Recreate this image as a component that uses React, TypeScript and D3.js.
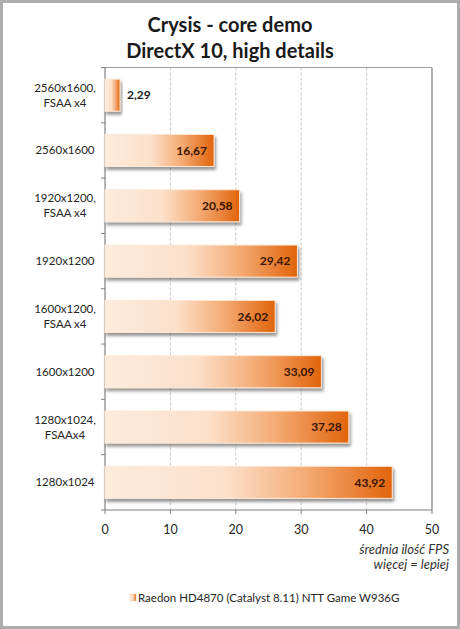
import React from "react";
import * as d3 from "d3";

const categories = [
  ["2560x1600,", "FSAA x4"],
  ["2560x1600"],
  ["1920x1200,", "FSAA x4"],
  ["1920x1200"],
  ["1600x1200,", "FSAA x4"],
  ["1600x1200"],
  ["1280x1024,", "FSAAx4"],
  ["1280x1024"],
];
const values = [2.29, 16.67, 20.58, 29.42, 26.02, 33.09, 37.28, 43.92];
const xTicks = [0, 10, 20, 30, 40, 50];
const titleLines = ["Crysis - core demo", "DirectX 10, high details"];
const axisNote = ["średnia ilość FPS", "więcej = lepiej"];
const legendLabel = "Raedon HD4870 (Catalyst 8.11) NTT Game W936G";

const W = 460;
const H = 629;
const FONT = "Lato, 'Open Sans', sans-serif";

export default function App() {
  const left = 105, right = 432, top = 67.5, bottom = 510;
  const x = d3.scaleLinear().domain([0, 50]).range([left, right]);
  const y = d3
    .scaleBand<number>()
    .domain(d3.range(categories.length))
    .range([top, bottom])
    .paddingInner(0.42)
    .paddingOuter(0.21);
  const bandStep = (bottom - top) / categories.length;
  const fmt = (v: number) => v.toFixed(2).replace(".", ",");

  return (
    <div style={{ position: "absolute", left: 0, top: 0 }}>
      <svg width={W} height={H} style={{ display: "block" }}>
        <defs>
          <linearGradient id="barGrad" x1="0" y1="0" x2="1" y2="0">
            <stop offset="0" stopColor="#fdebdc" />
            <stop offset="0.42" stopColor="#fce0ca" />
            <stop offset="0.7" stopColor="#f4ab74" />
            <stop offset="1" stopColor="#e1640b" />
          </linearGradient>
          <filter id="shadow" x="-10%" y="-30%" width="130%" height="180%">
            <feDropShadow dx="1.5" dy="3" stdDeviation="1.4" floodColor="#404040" floodOpacity="0.55" />
          </filter>
        </defs>
        <rect x={0} y={0} width={W} height={H} fill="#ffffff" />
        <rect x={1.5} y={1.5} width={W - 3} height={H - 3} fill="none" stroke="#adadad" strokeWidth={3} />

        {titleLines.map((t, i) => (
          <text
            key={i}
            x={230}
            y={32 + i * 26}
            textAnchor="middle"
            fontFamily={FONT}
            fontWeight="bold"
            fontSize={20}
            fill="#1a1a1a"
          >
            {t}
          </text>
        ))}

        {/* gridlines */}
        {xTicks.slice(1, -1).map((t) => (
          <line
            key={t}
            x1={x(t)}
            x2={x(t)}
            y1={top}
            y2={bottom}
            stroke="#c8c8c8"
            strokeDasharray="3,2"
            strokeWidth={1}
          />
        ))}

        {/* plot border */}
        <line x1={left} x2={right} y1={top} y2={top} stroke="#a0a0a0" strokeWidth={1} />
        <line x1={right} x2={right} y1={top} y2={bottom} stroke="#808080" strokeWidth={1.2} />
        <line x1={left} x2={left} y1={top} y2={bottom} stroke="#808080" strokeWidth={1.2} />
        <line x1={left} x2={right} y1={bottom} y2={bottom} stroke="#808080" strokeWidth={1.2} />

        {/* y ticks */}
        {d3.range(categories.length + 1).map((i) => (
          <line
            key={i}
            x1={left - 4}
            x2={left}
            y1={top + i * bandStep}
            y2={top + i * bandStep}
            stroke="#808080"
          />
        ))}
        {/* x ticks */}
        {xTicks.map((t) => (
          <line key={t} x1={x(t)} x2={x(t)} y1={bottom} y2={bottom + 4} stroke="#808080" />
        ))}

        {/* bars */}
        {values.map((v, i) => {
          const by = y(i)!;
          const bh = y.bandwidth();
          const bx = x(0);
          const bw = x(v) - x(0);
          const inside = bw > 40;
          return (
            <g key={i}>
              <rect
                x={bx}
                y={by}
                width={bw}
                height={bh}
                fill="url(#barGrad)"
                stroke="#fde8d6"
                strokeWidth={1}
                filter="url(#shadow)"
              />
              <text
                x={inside ? x(v) - 7 : x(v) + 7}
                y={by + bh / 2}
                dy="0.35em"
                textAnchor={inside ? "end" : "start"}
                fontFamily={FONT}
                fontWeight="bold"
                fontSize={12}
                fill={inside ? "#3a1500" : "#1a1a1a"}
              >
                {fmt(v)}
              </text>
            </g>
          );
        })}

        {/* category labels */}
        {categories.map((lines, i) => {
          const cy = y(i)! + y.bandwidth() / 2;
          const n = lines.length;
          return (
            <text
              key={i}
              textAnchor="middle"
              fontFamily={FONT}
              fontSize={11.5}
              fill="#262626"
            >
              {lines.map((l, j) => (
                <tspan key={j} x={65} y={cy + (j - (n - 1) / 2) * 15} dy="0.35em">
                  {l}
                </tspan>
              ))}
            </text>
          );
        })}

        {/* x tick labels */}
        {xTicks.map((t) => (
          <text
            key={t}
            x={x(t)}
            y={530}
            dy="0.35em"
            textAnchor="middle"
            fontFamily={FONT}
            fontSize={12.5}
            fill="#262626"
          >
            {t}
          </text>
        ))}

        {axisNote.map((t, i) => (
          <text
            key={i}
            x={449}
            y={549 + i * 15}
            dy="0.35em"
            textAnchor="end"
            fontFamily={FONT}
            fontStyle="italic"
            fontSize={13}
            fill="#333333"
          >
            {t}
          </text>
        ))}

        {/* legend */}
        <rect x={130} y={594} width={6} height={7} fill="url(#barGrad)" stroke="#f3c6a0" strokeWidth={0.5} />
        <text
          x={138}
          y={597.5}
          dy="0.35em"
          fontFamily={FONT}
          fontSize={11.5}
          fill="#262626"
        >
          {legendLabel}
        </text>
      </svg>
    </div>
  );
}
